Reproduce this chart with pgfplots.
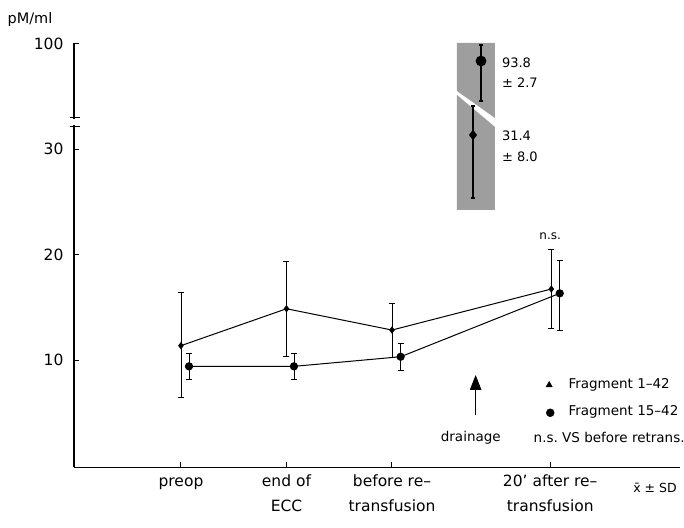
\documentclass[border=0pt]{standalone}
\usepackage{fontspec}
\setmainfont{DejaVu Sans}
\usepackage{pgfplots}
\pgfplotsset{compat=1.18}
\usetikzlibrary{arrows.meta}

\begin{document}
\begin{tikzpicture}
\begin{axis}[
  at={(0,0)}, anchor=south west,
  scale only axis, width=606pt, height=423.6pt,
  xmin=-1.014, xmax=4.73, ymin=-0.15, ymax=40,
  axis x line=bottom, axis y line=left,
  axis line style={-, line width=1.1pt},
  tick align=inside, major tick length=5pt,
  tick style={line width=1pt, black},
  xtick={0,1,2,3.5},
  xticklabels={preop\vphantom{bf}, {end of\\ECC}, {before re–\\transfusion}, {20' after re–\\transfusion}},
  xticklabel style={align=center, font=\fontsize{15.5}{25}\selectfont, yshift=-4pt},
  ytick={10,20,30,40}, yticklabels={10,20,30,100},
  yticklabel style={font=\fontsize{15.5}{18}\selectfont, xshift=-7pt},
  clip=false,
]
% shaded band for the high values
\fill[black!38] (axis cs:2.616,40.05) -- (axis cs:2.976,40.05) -- (axis cs:2.976,32.94) -- (axis cs:2.616,35.5) -- cycle;
\fill[black!38] (axis cs:2.616,35.12) -- (axis cs:2.976,32.09) -- (axis cs:2.976,24.22) -- (axis cs:2.616,24.22) -- cycle;

% Fragment 1-42
\addplot[black, line width=1pt, mark=diamond*, mark size=2.9pt,
  error bars/.cd, y dir=both, y explicit,
  error bar style={line width=0.9pt},
  error mark options={rotate=90, mark size=3pt, line width=0.9pt}]
  coordinates {
  (0,11.36) += (0,5.02) -= (0,4.93)
  (1,14.86) += (0,4.46) -= (0,4.48)
  (2,12.84) += (0,2.50) -= (0,2.58)
  (3.51,16.73) += (0,3.79) -= (0,3.70)
  };
% Fragment 15-42
\addplot[black, line width=1pt, mark=*, mark size=3.6pt,
  error bars/.cd, y dir=both, y explicit,
  error bar style={line width=0.9pt},
  error mark options={rotate=90, mark size=3pt, line width=0.9pt}]
  coordinates {
  (0.076,9.40) += (0,1.24) -= (0,1.23)
  (1.071,9.40) += (0,1.20) -= (0,1.27)
  (2.082,10.31) += (0,1.24) -= (0,1.26)
  (3.59,16.32) += (0,3.16) -= (0,3.54)
  };
% high values (93.8 and 31.4)
\addplot[black, line width=2.6pt, mark=*, mark size=4pt,
  error bars/.cd, y dir=both, y explicit,
  error bar style={line width=2.6pt},
  error mark options={rotate=90, mark size=2pt, line width=1.5pt}]
  coordinates {(2.844,38.34) += (0,1.52) -= (0,3.79)};
\addplot[black, line width=2.6pt, mark=diamond*, mark size=3.2pt,
  error bars/.cd, y dir=both, y explicit,
  error bar style={line width=2.6pt},
  error mark options={rotate=90, mark size=2pt, line width=1.5pt}]
  coordinates {(2.768,31.33) += (0,2.74) -= (0,5.97)};

% legend marks
\addplot[only marks, mark=triangle*, mark size=3.6pt] coordinates {(3.49,7.63)};
\addplot[only marks, mark=*, mark size=4pt] coordinates {(3.50,5.0)};

\node[anchor=west, font=\fontsize{13.5}{16}\selectfont] at (axis cs:3.64,7.63) {Fragment 1–42};
\node[anchor=west, font=\fontsize{13.5}{16}\selectfont] at (axis cs:3.64,5.07) {Fragment 15–42};
\node[anchor=west, font=\fontsize{13.5}{16}\selectfont] at (axis cs:3.31,2.67) {n.s.\ VS before retrans.};
\node[font=\fontsize{13.5}{16}\selectfont] at (axis cs:2.747,2.67) {drainage};
\draw[line width=1pt, -{Triangle[width=11.5pt,length=15pt]}] (axis cs:2.793,4.79) -- (axis cs:2.793,8.58);

\node[font=\fontsize{12}{14}\selectfont] at (axis cs:3.50,21.75) {n.s.};
\node[anchor=west, font=\fontsize{13}{15}\selectfont] at (axis cs:3.01,38.15) {93.8};
\node[anchor=west, font=\fontsize{13}{15}\selectfont] at (axis cs:3.01,36.26) {± 2.7};
\node[anchor=west, font=\fontsize{13}{15}\selectfont] at (axis cs:3.01,31.23) {31.4};
\node[anchor=west, font=\fontsize{13}{15}\selectfont] at (axis cs:3.01,29.24) {± 8.0};

\node[font=\fontsize{14.5}{16}\selectfont] at (axis cs:-1.431,42.32) {pM/ml};
\node[font=\fontsize{12.5}{14}\selectfont] at (axis cs:4.493,-2.1) {x̄ ± SD};

\coordinate (bA1) at (axis cs:-1.052,32.94);
\coordinate (bA2) at (axis cs:-0.957,32.94);
\coordinate (bB1) at (axis cs:-1.052,32.18);
\coordinate (bB2) at (axis cs:-0.957,32.18);
\coordinate (gap1) at (axis cs:-1.04,32.26);
\coordinate (gap2) at (axis cs:-0.99,32.86);
\end{axis}
\fill[white] (gap1) rectangle (gap2);
\draw[line width=1pt] (bA1) -- (bA2);
\draw[line width=1pt] (bB1) -- (bB2);
\pgfresetboundingbox
\path[use as bounding box] (-74pt,-60pt) rectangle (610pt,467.1pt);
\end{tikzpicture}
\end{document}
